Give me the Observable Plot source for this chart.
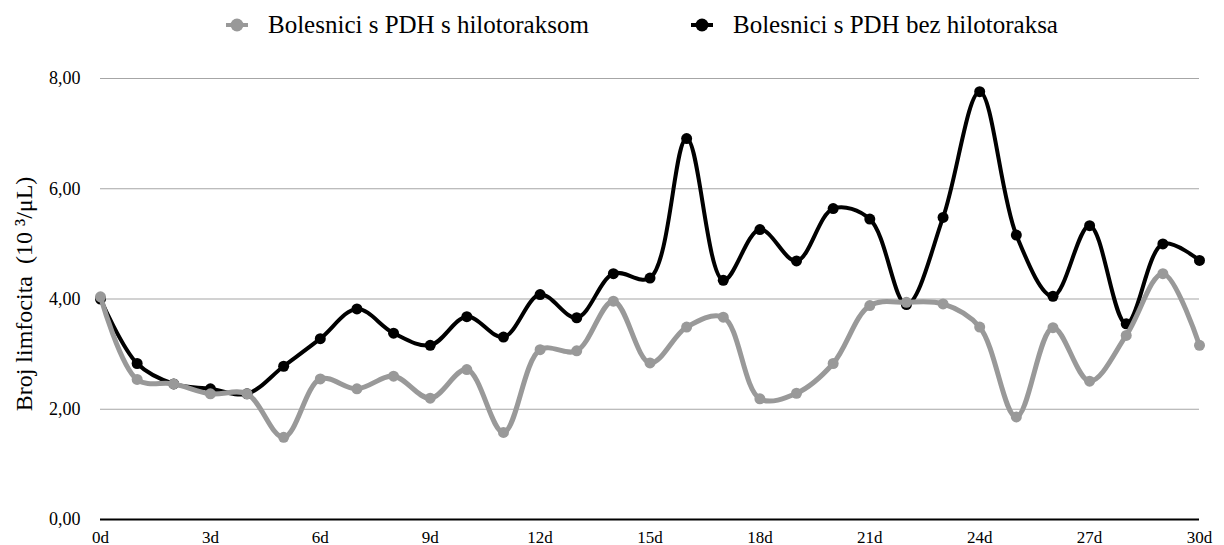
<!DOCTYPE html>
<html>
<head>
<meta charset="utf-8">
<script src="https://cdn.jsdelivr.net/npm/d3@7"></script>
<script src="https://cdn.jsdelivr.net/npm/@observablehq/plot@0.6"></script>
<style>
  html, body { margin: 0; padding: 0; background: #fff; }
  body { width: 1224px; height: 545px; overflow: hidden; font-family: "Liberation Serif", "Times New Roman", serif; }
  #legend { position: relative; height: 50px; width: 1224px; }
  .item { position: absolute; top: 8px; height: 34px; display: flex; align-items: center; font-size: 25px; color: #000; white-space: nowrap; }
  .item svg { margin-right: 20px; }
</style>
</head>
<body>
<div id="legend"></div>
<div id="chart"></div>
<script>
const days = [0,1,2,3,4,5,6,7,8,9,10,11,12,13,14,15,16,17,18,19,20,21,22,23,24,25,26,27,28,29,30];
const seriesNames = ["Bolesnici s PDH s hilotoraksom", "Bolesnici s PDH bez hilotoraksa"];
const withChylothorax = [4.04, 2.54, 2.46, 2.28, 2.28, 1.49, 2.55, 2.37, 2.60, 2.20, 2.72, 1.58, 3.08, 3.06, 3.96, 2.84, 3.49, 3.67, 2.19, 2.29, 2.83, 3.88, 3.94, 3.91, 3.49, 1.86, 3.48, 2.51, 3.34, 4.46, 3.16];
const withoutChylothorax = [4.00, 2.83, 2.46, 2.37, 2.28, 2.78, 3.28, 3.82, 3.38, 3.16, 3.68, 3.31, 4.08, 3.66, 4.46, 4.38, 6.91, 4.34, 5.26, 4.69, 5.64, 5.45, 3.90, 5.48, 7.76, 5.16, 4.05, 5.33, 3.55, 5.00, 4.70];
const xTicks = [0, 3, 6, 9, 12, 15, 18, 21, 24, 27, 30];
const yTicks = [0, 2, 4, 6, 8];
const yLabel = "Broj limfocita\u00A0 (10 ³/μL)";
const colors = ["#999999", "#000000"];

const gray = days.map((d, i) => ({day: d, value: withChylothorax[i]}));
const black = days.map((d, i) => ({day: d, value: withoutChylothorax[i]}));

// legend
const legend = document.getElementById("legend");
const legendLeft = [226, 691];
seriesNames.forEach((name, i) => {
  const div = document.createElement("div");
  div.className = "item";
  div.style.left = legendLeft[i] + "px";
  div.innerHTML = `<svg width="22" height="16"><line x1="0" x2="22" y1="8" y2="8" stroke="${colors[i]}" stroke-width="4"/><circle cx="11" cy="8" r="6.5" fill="${colors[i]}"/></svg><span>${name}</span>`;
  legend.appendChild(div);
});

const fmt = v => d3.format(".2f")(v).replace(".", ",");
const font = "Liberation Serif, Times New Roman, serif";

const plot = Plot.plot({
  width: 1224,
  height: 495,
  marginLeft: 100,
  marginRight: 25,
  marginTop: 28,
  marginBottom: 26,
  style: {fontFamily: font, fontSize: "18px", color: "#000", background: "#fff", overflow: "visible"},
  x: {domain: [0, 30]},
  y: {domain: [0, 8]},
  marks: [
    Plot.gridY(yTicks.filter(t => t > 0), {stroke: "#a6a6a6", strokeOpacity: 1, strokeWidth: 1.2}),
    Plot.ruleY([0], {stroke: "#000", strokeWidth: 2}),
    Plot.axisY(yTicks, {tickSize: 0, tickPadding: 20, tickFormat: fmt, label: null, fontSize: 18}),
    Plot.axisX(xTicks, {tickSize: 0, tickPadding: 11, tickFormat: d => d + "d", label: null, fontSize: 17}),
    Plot.text([yLabel], {frameAnchor: "left", textAnchor: "middle", dx: -76, dy: -5, rotate: -90, fontSize: 24, fill: "#000"}),
    Plot.line(black, {x: "day", y: "value", stroke: colors[1], strokeWidth: 4, curve: "catmull-rom"}),
    Plot.dot(black, {x: "day", y: "value", fill: colors[1], r: 5.5}),
    Plot.line(gray, {x: "day", y: "value", stroke: colors[0], strokeWidth: 5, curve: "catmull-rom"}),
    Plot.dot(gray, {x: "day", y: "value", fill: colors[0], r: 5.5})
  ]
});
document.getElementById("chart").appendChild(plot);
</script>
</body>
</html>
